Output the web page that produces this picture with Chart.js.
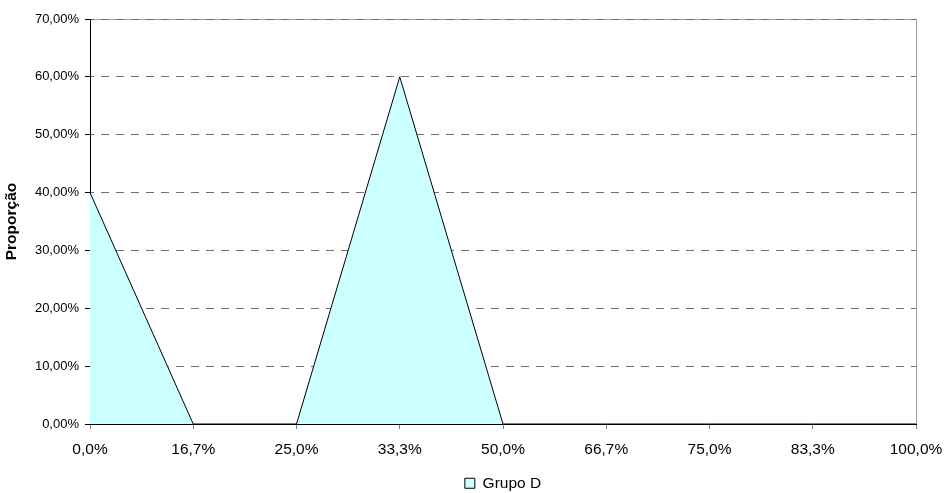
<!DOCTYPE html>
<html>
<head>
<meta charset="utf-8">
<script src="https://cdn.jsdelivr.net/npm/chart.js@4/dist/chart.umd.min.js"></script>
<style>
  html, body { margin: 0; padding: 0; background: #fff; }
  #wrap { width: 944px; height: 493px; }
</style>
</head>
<body>
<div id="wrap"><canvas id="c" width="944" height="493"></canvas></div>
<script>
// Category labels along the x axis
const categories = ['0,0%', '16,7%', '25,0%', '33,3%', '50,0%', '66,7%', '75,0%', '83,3%', '100,0%'];
// Proportion (%) for Grupo D
const grupoD = [40, 0, 0, 60, 0, 0, 0, 0, 0];
// Y axis range
const yMin = 0;
const yMax = 70;
const yStep = 10;

const FONT = '"Liberation Sans", Arial, sans-serif';

// Grey plot-area frame along the top and right edges
const plotFrame = {
  id: 'plotFrame',
  beforeDraw(chart) {
    const { ctx, chartArea: a } = chart;
    ctx.save();
    ctx.strokeStyle = '#a0a0a0';
    ctx.lineWidth = 1;
    ctx.beginPath();
    ctx.moveTo(a.left, a.top + 0.5);
    ctx.lineTo(a.right + 0.5, a.top + 0.5);
    ctx.lineTo(a.right + 0.5, a.bottom);
    ctx.stroke();
    ctx.restore();
  }
};

new Chart(document.getElementById('c'), {
  type: 'line',
  data: {
    labels: categories,
    datasets: [{
      label: 'Grupo D',
      data: grupoD,
      fill: 'origin',
      backgroundColor: '#ccffff',
      borderColor: '#000000',
      borderWidth: 1,
      pointRadius: 0,
      tension: 0
    }]
  },
  options: {
    responsive: false,
    animation: false,
    layout: { padding: { top: 19, right: 28, left: 0, bottom: -8 } },
    plugins: {
      tooltip: { enabled: false },
      legend: {
        position: 'bottom',
        fullSize: false,
        labels: {
          boxWidth: 10,
          boxHeight: 10,
          padding: 8,
          color: '#000',
          font: { family: FONT, size: 15.5 },
          generateLabels(chart) {
            const ds = chart.data.datasets[0];
            return [{
              text: ds.label,
              fillStyle: ds.backgroundColor,
              strokeStyle: '#000',
              lineWidth: 1,
              datasetIndex: 0
            }];
          }
        }
      }
    },
    scales: {
      x: {
        type: 'category',
        offset: false,
        grid: {
          display: true,
          drawOnChartArea: false,
          drawTicks: true,
          tickLength: 5,
          tickColor: '#808080',
          color: '#808080'
        },
        border: { display: true, color: '#000', width: 1 },
        ticks: {
          color: '#000',
          padding: 11,
          maxRotation: 0,
          autoSkip: false,
          font: { family: FONT, size: 15.5 }
        },
        afterFit(scale) {
          scale.height = 43.5;
          scale.paddingLeft = 0;
          scale.paddingRight = 0;
        }
      },
      y: {
        min: yMin,
        max: yMax,
        grid: {
          color: '#707070',
          lineWidth: 1,
          drawTicks: true,
          tickLength: 5,
          tickColor: '#000',
          tickBorderDash: []
        },
        border: { display: true, color: '#000', width: 1, dash: [8, 7], dashOffset: 5 },
        ticks: {
          stepSize: yStep,
          color: '#000',
          padding: 6,
          font: { family: FONT, size: 13 },
          callback: (v) => v.toFixed(2).replace('.', ',') + '%'
        },
        title: {
          display: true,
          text: 'Proporção',
          color: '#000',
          padding: { top: 2, bottom: 0 },
          font: { family: FONT, size: 15.5, weight: 'bold' }
        },
        afterFit(scale) { scale.width = 90; }
      }
    }
  },
  plugins: [plotFrame]
});
</script>
</body>
</html>
